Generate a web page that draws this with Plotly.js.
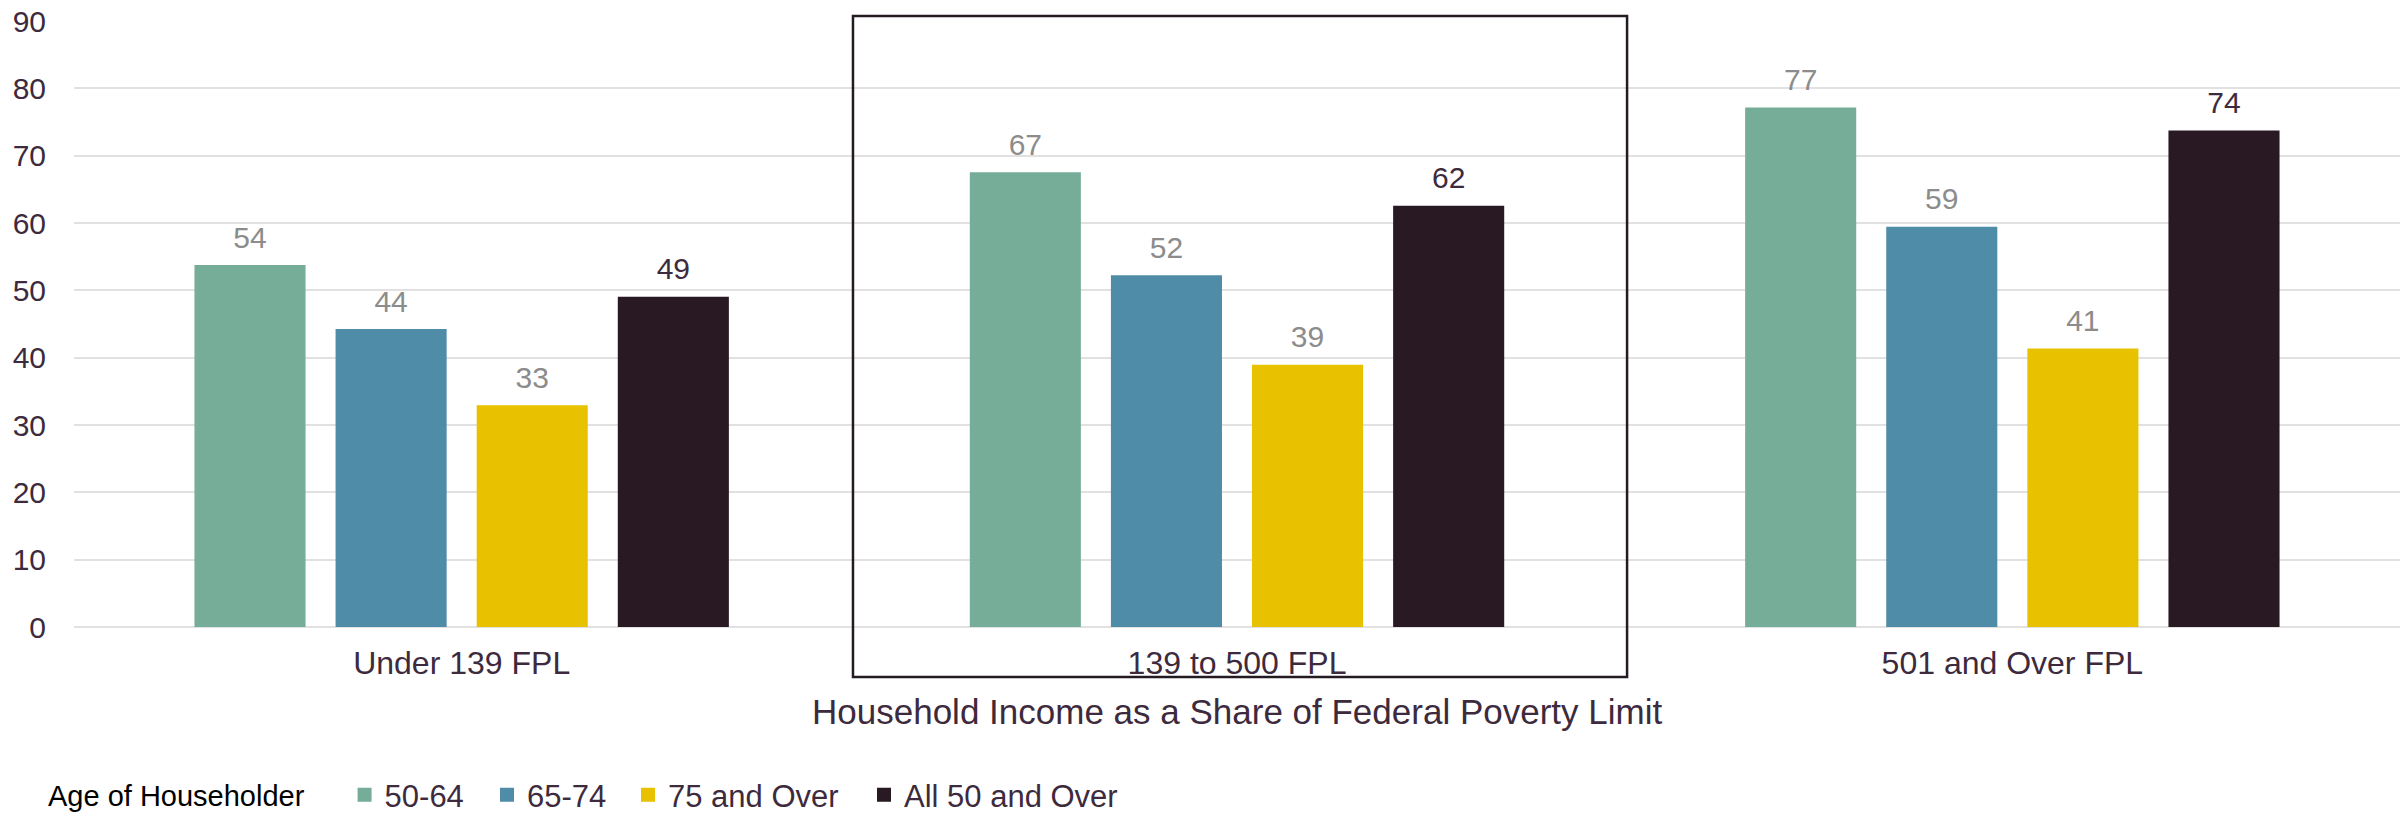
<!DOCTYPE html>
<html>
<head>
<meta charset="utf-8">
<script src="https://cdn.plot.ly/plotly-3.0.1.min.js"></script>
<style>html,body{margin:0;padding:0;background:#fff;}#chart{width:2405px;height:816px;}</style>
</head>
<body>
<div id="chart"></div>
<script>
const categories = ["Under 139 FPL", "139 to 500 FPL", "501 and Over FPL"];
const seriesNames = ["50-64", "65-74", "75 and Over", "All 50 and Over"];
const age50to64 = [53.6, 67.4, 77.0];
const age65to74 = [44.1, 52.1, 59.3];
const age75plus = [32.8, 38.8, 41.2];
const allAge50plus = [48.9, 62.4, 73.6];
const yTicks = [0, 10, 20, 30, 40, 50, 60, 70, 80, 90];

const colors = ["#76ad98", "#4f8ca8", "#e8c200", "#281922"];
const labelColors = ["#8c8c8c", "#8c8c8c", "#8c8c8c", "#3d2b3d"];
const values = [age50to64, age65to74, age75plus, allAge50plus];
const legendIds = ["legend", "legend2", "legend3", "legend4"];
const FONT = "Liberation Sans, Arial, sans-serif";
const NB = "\u00a0";

const bars = values.map((v, i) => ({
  type: "bar",
  name: seriesNames[i],
  legend: legendIds[i],
  x: categories,
  y: v,
  marker: {color: colors[i], line: {color: colors[i], width: 2}},
  hoverinfo: "skip"
}));

// value labels, placed in the same groups as the bars
const labels = values.map((v, i) => ({
  type: "scatter",
  mode: "markers+text",
  x: categories,
  y: v,
  text: v.map(n => Math.round(n).toString()),
  textposition: "top center",
  textfont: {family: FONT, size: 30, color: labelColors[i]},
  marker: {size: 16, opacity: 0},
  cliponaxis: false,
  showlegend: false,
  hoverinfo: "skip"
}));

function legendAt(xpx, title) {
  const l = {
    orientation: "h",
    xref: "container", yref: "container",
    x: xpx / 2405, y: 0.0257, xanchor: "left", yanchor: "middle",
    font: {size: 31, color: "#3d2b3d"},
    bgcolor: "rgba(0,0,0,0)"
  };
  if (title) l.title = {text: title, side: "left", font: {size: 29, color: "#000"}};
  return l;
}

const layout = {
  width: 2405, height: 816,
  margin: {l: 74, r: 5, t: 21, b: 189},
  paper_bgcolor: "#fff", plot_bgcolor: "#fff",
  font: {family: FONT, size: 29, color: "#3d2b3d"},
  barmode: "group",
  bargap: 0.272,
  bargroupgap: 0.227,
  scattermode: "group",
  scattergap: 0.272,
  xaxis: {
    type: "category",
    showgrid: false, showline: false, zeroline: false, ticks: "",
    tickfont: {size: 32, color: "#3d2b3d"},
    ticklabelstandoff: 14
  },
  yaxis: {
    range: [0, 90],
    tickvals: yTicks,
    showgrid: true, gridcolor: "#e1e1e1", gridwidth: 2,
    zeroline: true, zerolinecolor: "#e1e1e1", zerolinewidth: 2,
    showline: false, ticks: "",
    tickfont: {size: 30, color: "#3d2b3d"},
    ticklabelstandoff: 27
  },
  showlegend: true,
  legend: legendAt(46, "Age of Householder" + NB.repeat(4)),
  legend2: legendAt(487),
  legend3: legendAt(628),
  legend4: legendAt(864),
  annotations: [{
    text: "Household Income as a Share of Federal Poverty Limit",
    xref: "paper", yref: "paper", x: 0.5, y: -0.140,
    xanchor: "center", yanchor: "middle", showarrow: false,
    font: {size: 35, color: "#3d2b3d"}
  }],
  shapes: [{
    type: "rect", xref: "paper", yref: "paper",
    x0: 0.3349, x1: 0.6677, y0: -0.0825, y1: 1.0083,
    line: {color: "#231a22", width: 2.5},
    fillcolor: "rgba(0,0,0,0)", layer: "above"
  }]
};

Plotly.newPlot("chart", bars.concat(labels), layout, {displayModeBar: false, staticPlot: true});
</script>
</body>
</html>
